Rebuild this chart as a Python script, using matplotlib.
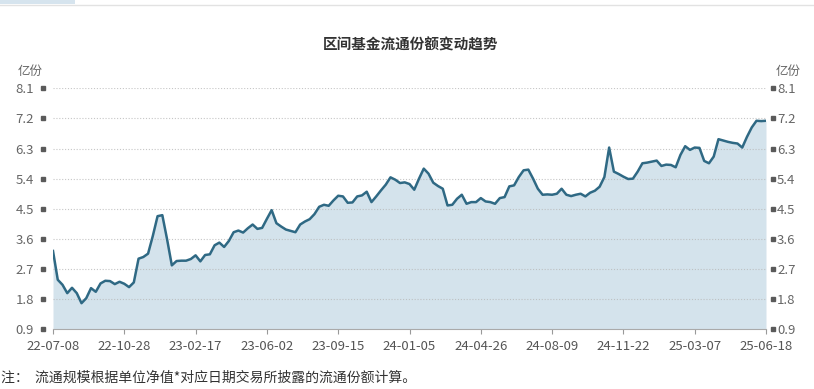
import matplotlib
matplotlib.use("Agg")
import matplotlib.pyplot as plt
import numpy as np
from matplotlib import patches
from matplotlib.lines import Line2D

plt.rcParams['font.family'] = ['Noto Sans CJK SC', 'DejaVu Sans']

# 流通份额（亿份），按周
FEN_E = [
    3.24, 2.38, 2.23, 1.98, 2.14, 1.98, 1.68, 1.83, 2.13, 2.02,
    2.27, 2.35, 2.34, 2.25, 2.32, 2.26, 2.16, 2.30, 3.01, 3.06,
    3.16, 3.69, 4.28, 4.31, 3.59, 2.81, 2.94, 2.95, 2.95, 3.00,
    3.11, 2.93, 3.12, 3.14, 3.41, 3.49, 3.36, 3.54, 3.80, 3.85,
    3.79, 3.92, 4.03, 3.90, 3.93, 4.20, 4.46, 4.07, 3.97, 3.88,
    3.84, 3.80, 4.03, 4.12, 4.19, 4.34, 4.56, 4.62, 4.59, 4.75,
    4.89, 4.87, 4.68, 4.69, 4.87, 4.90, 5.01, 4.70, 4.87, 5.05,
    5.22, 5.44, 5.37, 5.27, 5.29, 5.24, 5.07, 5.40, 5.70, 5.55,
    5.28, 5.18, 5.10, 4.60, 4.62, 4.80, 4.92, 4.65, 4.70, 4.70,
    4.82, 4.72, 4.70, 4.65, 4.82, 4.85, 5.17, 5.20, 5.45, 5.65,
    5.67, 5.40, 5.10, 4.92, 4.93, 4.92, 4.95, 5.10, 4.92, 4.88,
    4.92, 4.95, 4.87, 4.98, 5.04, 5.16, 5.45, 6.33, 5.61, 5.54,
    5.46, 5.39, 5.40, 5.61, 5.86, 5.88, 5.91, 5.94, 5.78, 5.82,
    5.81, 5.74, 6.11, 6.37, 6.26, 6.33, 6.32, 5.93, 5.86, 6.06,
    6.58, 6.54, 6.50, 6.47, 6.45, 6.33, 6.65, 6.93, 7.13, 7.12,
    7.13,
]

FECHAS = ["22-07-08", "22-10-28", "23-02-17", "23-06-02", "23-09-15", "24-01-05",
          "24-04-26", "24-08-09", "24-11-22", "25-03-07", "25-06-18"]
Y_TICKS = [0.9, 1.8, 2.7, 3.6, 4.5, 5.4, 6.3, 7.2, 8.1]

W, H = 814, 389
fig = plt.figure(figsize=(W / 100, H / 100), dpi=100)
ax = fig.add_axes([53 / W, 59.7 / H, 713 / W, 241 / H])

x = np.arange(len(FEN_E))
ax.fill_between(x, FEN_E, Y_TICKS[0], color="#d4e3ec", lw=0, zorder=1)
for y in Y_TICKS[1:]:
    ax.axhline(y, color="#b8b8b8", lw=0.8, ls=(0, (1, 1.6)), alpha=0.8, zorder=2)
ax.plot(x, FEN_E, color="#2f6984", lw=1.8, zorder=3, solid_joinstyle="round")

ax.set_xlim(0, len(FEN_E) - 1)
ax.set_ylim(Y_TICKS[0], Y_TICKS[-1])

paso = (len(FEN_E) - 1) // (len(FECHAS) - 1)
ax.set_xticks(np.arange(0, len(FEN_E), paso))
ax.set_xticklabels(FECHAS)
ax.tick_params(axis="x", length=3.5, width=0.8, color="#999999",
               labelcolor="#555555", labelsize=9.5, pad=4)

ax.set_yticks(Y_TICKS)
ax.set_yticklabels([f"{v:.1f}" for v in Y_TICKS])
ax.tick_params(axis="y", length=0, labelcolor="#666666", labelsize=9.5, pad=13.5)

ax2 = ax.twinx()
ax2.set_ylim(Y_TICKS[0], Y_TICKS[-1])
ax2.set_yticks(Y_TICKS)
ax2.set_yticklabels([f"{v:.1f}" for v in Y_TICKS])
ax2.tick_params(axis="y", length=0, labelcolor="#666666", labelsize=9.5, pad=8)

for a in (ax, ax2):
    for lado in ("left", "right", "top", "bottom"):
        a.spines[lado].set_visible(False)
ax.spines["bottom"].set_visible(True)
ax.spines["bottom"].set_color("#aaaaaa")
ax.spines["bottom"].set_linewidth(0.8)

# marcadores cuadrados de las marcas del eje y
tr = ax.get_yaxis_transform()
for xf in (-0.0136, 1.0098):
    ax.plot([xf] * len(Y_TICKS), Y_TICKS, "s", ms=2.6, color="#5a5a5a",
            transform=tr, clip_on=False, zorder=4)

# textos
fig.text(0.505, 1 - 45 / H, "区间基金流通份额变动趋势", ha="center", va="center",
         fontsize=10.5, fontweight="bold", color="#333333")
fig.text(18 / W, 1 - 71 / H, "亿份", ha="left", va="center", fontsize=9, color="#666666")
fig.text(776 / W, 1 - 71 / H, "亿份", ha="left", va="center", fontsize=9, color="#666666")
fig.text(1 / W, 1 - 378 / H, "注：  流通规模根据单位净值*对应日期交易所披露的流通份额计算。",
         ha="left", va="center", fontsize=10, color="#333333")

# barra superior de la interfaz
fig.add_artist(Line2D([0, 1], [1 - 5 / H, 1 - 5 / H], transform=fig.transFigure,
                      color="#e2e2e2", lw=1))
fig.add_artist(patches.Rectangle((0, 1 - 4 / H), 75 / W, 4 / H, transform=fig.transFigure,
                                 color="#d6e4ee", lw=0))

fig.savefig("out.png", dpi=100)
